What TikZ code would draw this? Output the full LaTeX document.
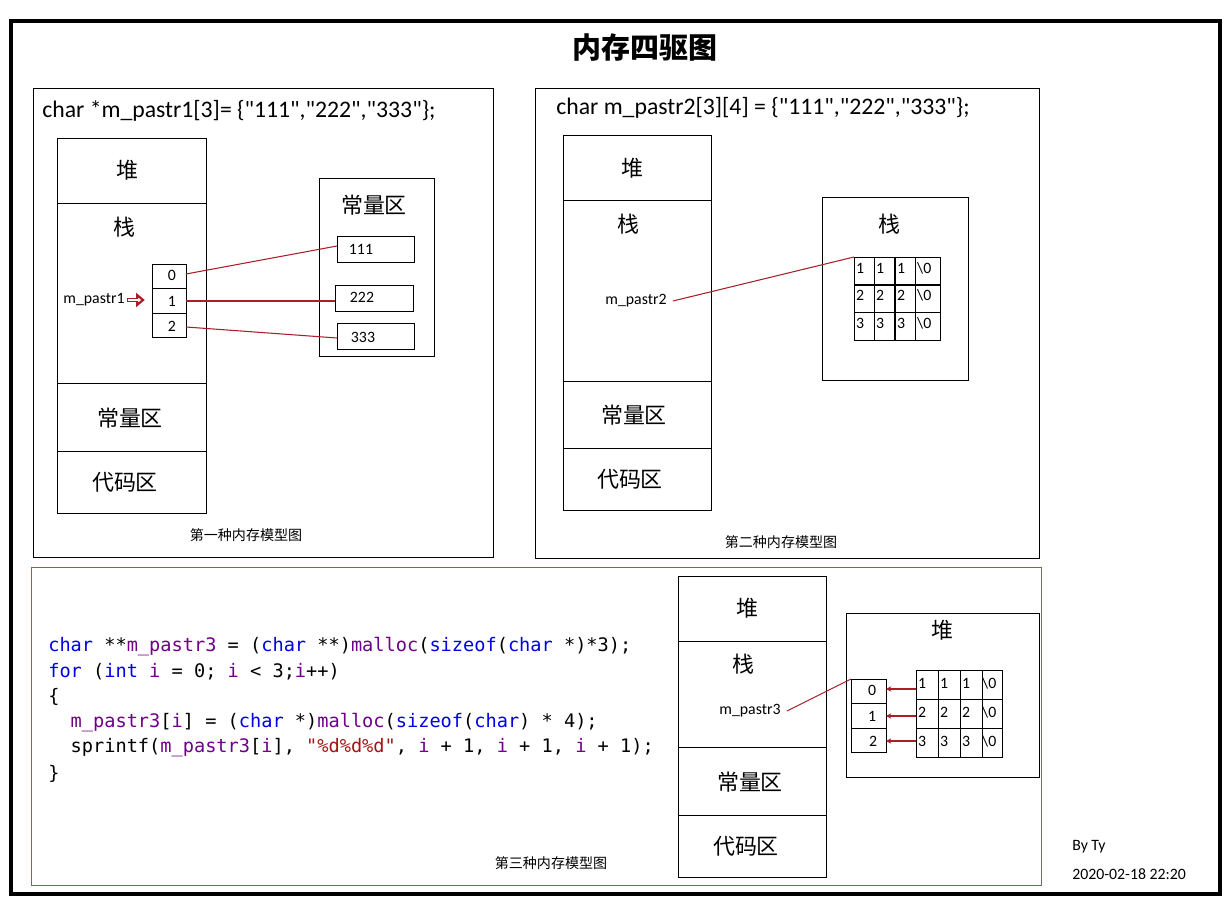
\documentclass[tikz,border=0pt]{standalone}
\usepackage{fontspec}
\setmainfont{Noto Sans CJK SC}
\newfontfamily\latinfont{Carlito}
\setmonofont{DejaVu Sans Mono}
\usetikzlibrary{arrows.meta}
\definecolor{lnred}{RGB}{170,30,40}
\definecolor{boxred}{RGB}{195,70,80}
\definecolor{kwblue}{RGB}{0,0,230}
\definecolor{fnpurple}{RGB}{111,0,138}
\definecolor{strred}{RGB}{163,21,21}
\tikzset{
  lbl/.style={font=\fontsize{12.5}{14}\selectfont},
  small/.style={font=\latinfont\fontsize{9}{10}\selectfont},
  modelcap/.style={font=\fontsize{8}{10}\selectfont},
  hdr/.style={font=\latinfont\fontsize{13.5}{15}\selectfont,anchor=west},
  codeln/.style={font=\ttfamily\fontsize{10.6}{12}\selectfont,anchor=west},
  link/.style={lnred,line width=0.6pt},
}
\newcommand{\kw}[1]{\textcolor{kwblue}{#1}}
\newcommand{\fn}[1]{\textcolor{fnpurple}{#1}}
\begin{document}
\begin{tikzpicture}[x=0.02cm,y=-0.02cm,line width=0.5pt]
\useasboundingbox (0,0) rectangle (1231,906);
\fill[white] (0,0) rectangle (1231,906);
\draw[line width=2.2pt] (11,21) rectangle (1220,894);
\node[font=\bfseries\fontsize{16.5}{18}\selectfont] (title) at (645,47) {内存四驱图};
% first model
\draw (33,88) rectangle (493,557);
\node[hdr] (h1) at (36,111) {char *m\_pastr1[3]= \{"111","222","333"\};};
\draw (57,138) rectangle (206,513);
\draw (57,203) -- (206,203) (57,383) -- (206,383) (57,451) -- (206,451);
\node[lbl] at (127,170) {堆};
\node[lbl] at (124,227) {栈};
\node[lbl] at (130,418) {常量区};
\node[lbl] at (125,482) {代码区};
\draw (152,264) rectangle (186,337);
\draw (152,288) -- (186,288) (152,313) -- (186,313);
\node[small] at (172,275) {0};
\node[small] at (172,301) {1};
\node[small] at (172,326) {2};
\node[small,inner sep=1pt] (p1) at (94,300) {m\_pastr1};
\coordinate (c0) at (186,274);
\coordinate (c1) at (186,301);
\coordinate (c2) at (186,327);
\draw[lnred,-{Triangle[open,length=5pt,width=8pt]},line width=2.2pt] (p1.east) -- ++(18,0);
\draw[white,line width=1pt,shorten >=2pt] (p1.east) ++(1,0) -- ++(14,0);
\draw (319,178) rectangle (434,356);
\node[lbl] at (374,205) {常量区};
\draw (337,236) rectangle (414,262);
\draw (335,285) rectangle (413,311);
\draw (337,323) rectangle (414,349);
\node[small] (s1) at (361,249) {111};
\node[small] (s2) at (362,297) {222};
\node[small] (s3) at (363,337) {333};
\draw[link] (c0) -- (337,246);
\draw[link] (c1) -- (335,301);
\draw[link] (c2) -- (337,338);
\node[modelcap] at (246,535) {第一种内存模型图};
% second model
\draw (535,88) rectangle (1039,558);
\node[hdr] (h2) at (550,108) {char m\_pastr2[3][4] = \{"111","222","333"\};};
\draw (563,135) rectangle (711,510);
\draw (563,200) -- (711,200) (563,381) -- (711,381) (563,448) -- (711,448);
\node[lbl] at (632,168) {堆};
\node[lbl] at (628,224) {栈};
\node[lbl] at (634,415) {常量区};
\node[lbl] at (630,479) {代码区};
\node[small] (p2) at (636,301) {m\_pastr2};
\draw (822,197) rectangle (968,380);
\node[lbl] at (889,224) {栈};
\foreach \r/\y in {1/257,2/284,3/312}{
  \foreach \x in {854,874,895}{
    \draw (\x,\y) rectangle +(20,28);
    \node[small,anchor=west,inner sep=1pt] at (\x,\y+11) {\r};
  }
  \draw (915,\y) rectangle +(25,28);
  \node[small,anchor=west,inner sep=1pt] at (915,\y+11) {\textbackslash 0};
}
\coordinate (g2) at (854,257);
\draw[link] (p2.east) -- (g2);
\node[modelcap] at (781,542) {第二种内存模型图};
% third model
\draw[boxred] (31,567) rectangle (1041,885);
\node[codeln] at (42,647) {\kw{char} **\fn{m\_pastr3} = (\kw{char} **)\fn{malloc}(\kw{sizeof}(\kw{char} *)*3);};
\node[codeln] at (42,672) {\kw{for} (\kw{int} \fn{i} = 0; \fn{i} < 3;\fn{i}++)};
\node[codeln] at (42,697) {\{};
\node[codeln] at (42,723) {~~\fn{m\_pastr3}[\fn{i}] = (\kw{char} *)\fn{malloc}(\kw{sizeof}(\kw{char}) * 4);};
\node[codeln] at (42,748) {~~sprintf(\fn{m\_pastr3}[\fn{i}], \textcolor{strred}{"\%d\%d\%d"}, \fn{i} + 1, \fn{i} + 1, \fn{i} + 1);};
\node[codeln] at (42,774) {\}};
\draw (678,576) rectangle (826,877);
\draw (678,641) -- (826,641) (678,747) -- (826,747) (678,815) -- (826,815);
\node[lbl] at (747,608) {堆};
\node[lbl] at (743,664) {栈};
\node[small] (p3) at (750,711) {m\_pastr3};
\node[lbl] at (750,782) {常量区};
\node[lbl] at (746,846) {代码区};
\draw (846,613) rectangle (1039,777);
\node[lbl] at (942,630) {堆};
\draw (851,679) rectangle (886,752);
\draw (851,703) -- (886,703) (851,728) -- (886,728);
\node[small] at (872,690) {0};
\node[small] at (872,716) {1};
\node[small] at (873,741) {2};
\coordinate (q0) at (886,689);
\coordinate (q1) at (886,716);
\coordinate (q2) at (886,741);
\foreach \r/\y in {1/670,2/699,3/728}{
  \foreach \x in {916,938,960}{
    \draw (\x,\y) rectangle +(22,29);
    \node[small,anchor=west,inner sep=1pt] at (\x,\y+13) {\r};
  }
  \draw (982,\y) rectangle +(20,29);
  \node[small,anchor=west,inner sep=1pt] at (980,\y+13) {\textbackslash 0};
}
\coordinate (r0) at (916,689);
\coordinate (r1) at (916,716);
\coordinate (r2) at (916,741);
\draw[link] (p3.east) -- (851,679);
\foreach \i in {0,1,2}
  \draw[link,-{Stealth[length=3pt,width=3pt]}] (r\i) -- (q\i);
\node[modelcap] at (551,863) {第三种内存模型图};
\node[small,anchor=west] (by) at (1066,847) {By Ty};
\node[small,anchor=west] (dt) at (1066,874) {2020-02-18 22:20};
\end{tikzpicture}
\end{document}
